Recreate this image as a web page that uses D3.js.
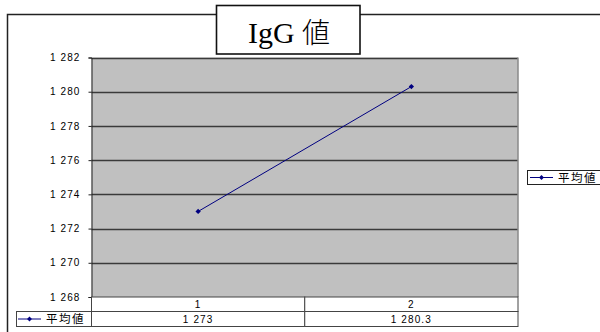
<!DOCTYPE html>
<html>
<head>
<meta charset="utf-8">
<script src="https://cdn.jsdelivr.net/npm/d3@7/dist/d3.min.js"></script>
<style>
  html, body { margin: 0; padding: 0; background: #fff; }
  svg { display: block; }
  .tick-label { font-family: "Liberation Sans", Arial, sans-serif; font-size: 10px; letter-spacing: 1.1px; fill: #000; }
  .cell-text { font-family: "Liberation Sans", Arial, sans-serif; font-size: 10px; letter-spacing: 1.1px; fill: #000; }
  .legend-text { font-family: "Noto Sans CJK JP", sans-serif; font-size: 11.5px; letter-spacing: 1.5px; fill: #000; }
</style>
</head>
<body>
<svg id="chart" width="600" height="332"></svg>
<script>
// Chart data
const title = "IgG 値";
const seriesName = "平均値";
const categories = ["1", "2"];
const values = [1273, 1280.3];
const tableLabels = ["1 273", "1 280.3"];
const yTicks = [1268, 1270, 1272, 1274, 1276, 1278, 1280, 1282];

const svg = d3.select("#chart");
const plot = { left: 91.5, right: 518, top: 57.5, bottom: 297 };
const navy = "#000080";

const locale = d3.formatLocale({ decimal: ".", thousands: " ", grouping: [3], currency: ["", ""] });
const fmt = locale.format(",");

const x = d3.scaleBand().domain(categories).range([plot.left, plot.right]);
const y = d3.scaleLinear().domain([1268, 1282]).range([plot.bottom, plot.top]);

// Outer chart frame (runs off the right and bottom edges)
svg.append("rect")
  .attr("x", 7.5).attr("y", 14.5)
  .attr("width", 620).attr("height", 340)
  .attr("fill", "#fff").attr("stroke", "#222").attr("stroke-width", 1.5);

// Plot background
svg.append("rect")
  .attr("x", plot.left).attr("y", plot.top)
  .attr("width", plot.right - plot.left).attr("height", plot.bottom - plot.top)
  .attr("fill", "#c0c0c0");

// Gridlines
svg.append("g").selectAll("line")
  .data(yTicks.filter(t => t !== 1268))
  .join("line")
  .attr("x1", plot.left).attr("x2", plot.right)
  .attr("y1", d => Math.round(y(d)) + 0.5).attr("y2", d => Math.round(y(d)) + 0.5)
  .attr("stroke", "#3a3a3a").attr("stroke-width", 1.3);

// Plot border on the right in gray
svg.append("line")
  .attr("x1", plot.right).attr("x2", plot.right)
  .attr("y1", plot.top).attr("y2", plot.bottom)
  .attr("stroke", "#8a8a8a").attr("stroke-width", 1.5);

// Y axis
const yAxis = d3.axisLeft(y).tickValues(yTicks).tickFormat(fmt).tickSize(3).tickPadding(8);
const yg = svg.append("g").attr("transform", `translate(${plot.left},0)`).call(yAxis);
yg.select(".domain").attr("stroke", "#222");
yg.selectAll(".tick line").attr("stroke", "#222");
yg.selectAll(".tick text").attr("class", "tick-label").attr("font-size", null).attr("font-family", null);

// Data table below the plot
const tableRows = { headTop: plot.bottom, headBottom: 311.5, dataBottom: 326.5 };
const tbl = svg.append("g");
// header row cells
tbl.selectAll("rect.head")
  .data(categories)
  .join("rect")
  .attr("class", "head")
  .attr("x", d => x(d)).attr("y", tableRows.headTop)
  .attr("width", x.bandwidth()).attr("height", tableRows.headBottom - tableRows.headTop)
  .attr("fill", "#fff").attr("stroke", "#444").attr("stroke-width", 1);
tbl.selectAll("text.head")
  .data(categories)
  .join("text")
  .attr("class", "cell-text")
  .attr("x", d => x(d) + x.bandwidth() / 2).attr("y", (tableRows.headTop + tableRows.headBottom) / 2 + 3.5)
  .attr("text-anchor", "middle")
  .text(d => d);
// legend key cell
tbl.append("rect")
  .attr("x", 16.5).attr("y", tableRows.headBottom)
  .attr("width", plot.left - 16.5).attr("height", tableRows.dataBottom - tableRows.headBottom)
  .attr("fill", "#fff").attr("stroke", "#444").attr("stroke-width", 1);
// value cells
tbl.selectAll("rect.val")
  .data(categories)
  .join("rect")
  .attr("x", d => x(d)).attr("y", tableRows.headBottom)
  .attr("width", x.bandwidth()).attr("height", tableRows.dataBottom - tableRows.headBottom)
  .attr("fill", "#fff").attr("stroke", "#444").attr("stroke-width", 1);
tbl.selectAll("text.val")
  .data(tableLabels)
  .join("text")
  .attr("class", "cell-text")
  .attr("x", (d, i) => x(categories[i]) + x.bandwidth() / 2)
  .attr("y", (tableRows.headBottom + tableRows.dataBottom) / 2 + 3.5)
  .attr("text-anchor", "middle")
  .text(d => d);

// Legend key (line + diamond marker + name)
function legendKey(g, x0, yc) {
  g.append("line").attr("x1", x0).attr("x2", x0 + 23).attr("y1", yc).attr("y2", yc)
    .attr("stroke", navy).attr("stroke-width", 1);
  g.append("path").attr("d", d3.symbol(d3.symbolSquare, 12)())
    .attr("transform", `translate(${x0 + 11.5},${yc}) rotate(45)`).attr("fill", navy);
  g.append("text").attr("class", "legend-text")
    .attr("x", x0 + 28).attr("y", yc + 4).text(seriesName);
}
legendKey(tbl.append("g"), 18, (tableRows.headBottom + tableRows.dataBottom) / 2);

// Series line
const line = d3.line()
  .x((d, i) => x(categories[i]) + x.bandwidth() / 2)
  .y(d => y(d));
svg.append("path").datum(values)
  .attr("d", line).attr("fill", "none").attr("stroke", navy).attr("stroke-width", 1);
svg.append("g").selectAll("path")
  .data(values)
  .join("path")
  .attr("d", d3.symbol(d3.symbolSquare, 14)())
  .attr("transform", (d, i) => `translate(${x(categories[i]) + x.bandwidth() / 2},${y(d)}) rotate(45)`)
  .attr("fill", navy);

// Right-hand legend box
const lg = svg.append("g");
lg.append("rect").attr("x", 527.5).attr("y", 170.5).attr("width", 90).attr("height", 14)
  .attr("fill", "#fff").attr("stroke", "#222").attr("stroke-width", 1);
legendKey(lg, 530, 177.5);

// Title box
const tg = svg.append("g");
tg.append("rect").attr("x", 216.5).attr("y", 5.5).attr("width", 143.5).attr("height", 48.5)
  .attr("fill", "#fff").attr("stroke", "#111").attr("stroke-width", 1.6);
const tt = tg.append("text")
  .attr("x", 289).attr("y", 43)
  .attr("text-anchor", "middle")
  .attr("font-size", 30).attr("fill", "#000");
tt.append("tspan").attr("font-family", "'Liberation Serif', 'Times New Roman', serif").text("IgG ");
tt.append("tspan").attr("font-family", "'Noto Sans CJK JP', sans-serif").attr("font-weight", 300).attr("font-size", 28).text("値");
</script>
</body>
</html>
